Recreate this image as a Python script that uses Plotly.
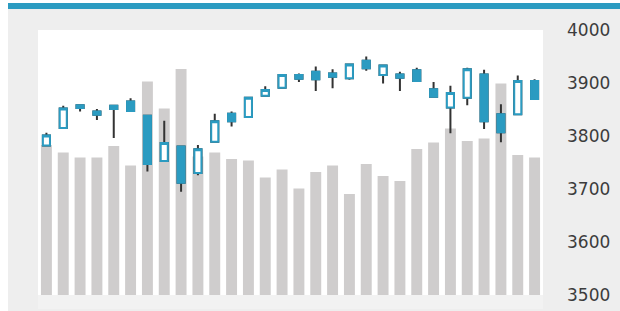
import plotly.graph_objects as go

days = [f"D{i+1}" for i in range(30)]

open_ = [3782, 3815, 3858, 3846, 3857, 3865, 3838, 3753, 3780, 3730,
         3789, 3842, 3836, 3876, 3891, 3915, 3921, 3918, 3909, 3942,
         3915, 3916, 3924, 3888, 3854, 3872, 3916, 3841, 3841, 3904]
high = [3806, 3857, 3860, 3851, 3858, 3871, 3839, 3829, 3781, 3783,
        3842, 3846, 3873, 3894, 3916, 3918, 3931, 3926, 3936, 3950,
        3934, 3921, 3929, 3902, 3895, 3929, 3925, 3860, 3914, 3907]
low = [3780, 3813, 3846, 3830, 3796, 3846, 3733, 3752, 3695, 3726,
       3788, 3818, 3835, 3875, 3890, 3902, 3885, 3890, 3906, 3923,
       3899, 3885, 3902, 3873, 3805, 3858, 3813, 3788, 3840, 3869]
close = [3801, 3852, 3853, 3840, 3851, 3847, 3747, 3787, 3712, 3775,
         3828, 3828, 3872, 3887, 3915, 3908, 3907, 3912, 3935, 3928,
         3933, 3910, 3904, 3874, 3881, 3926, 3828, 3807, 3904, 3870]
volume = [3000, 2850, 2750, 2750, 2980, 2590, 4270, 3730, 4520, 2770,
          2850, 2720, 2690, 2350, 2510, 2130, 2460, 2590, 2020, 2620,
          2380, 2280, 2920, 3050, 3330, 3080, 3130, 4230, 2800, 2750]

price_ticks = [3500, 3600, 3700, 3800, 3900, 4000]

BLUE = "#2b9bc1"
WICK = "#333333"

body_high = [max(o, c) for o, c in zip(open_, close)]
body_low = [min(o, c) for o, c in zip(open_, close)]

fig = go.Figure()

fig.add_trace(go.Bar(
    x=days, y=volume, yaxis="y", marker=dict(color="#cfcdcd", line=dict(width=0)),
    hoverinfo="skip", showlegend=False,
))

# wicks
fig.add_trace(go.Candlestick(
    x=days, open=open_, high=high, low=low, close=close, yaxis="y2",
    increasing=dict(line=dict(color=WICK, width=2), fillcolor="white"),
    decreasing=dict(line=dict(color=WICK, width=2), fillcolor=WICK),
    showlegend=False, hoverinfo="skip",
))
# bodies
fig.add_trace(go.Candlestick(
    x=days, open=open_, high=body_high, low=body_low, close=close, yaxis="y2",
    increasing=dict(line=dict(color=BLUE, width=2), fillcolor="white"),
    decreasing=dict(line=dict(color=BLUE, width=2), fillcolor=BLUE),
    showlegend=False,
))

L, R, T, B = 38, 77, 30, 16
W, H = 620, 311
pw, ph = W - L - R, H - T - B

def px_x(p):
    return (p - L) / pw

def px_y(p):
    return (H - B - p) / ph

fig.update_layout(
    width=W, height=H,
    margin=dict(l=L, r=R, t=T, b=B, pad=0, autoexpand=False),
    paper_bgcolor="#eeeeee",
    plot_bgcolor="white",
    bargap=0.35,
    boxgap=0.4,
    xaxis=dict(type="category", visible=False, rangeslider=dict(visible=False),
               range=[-0.5, 29.5], fixedrange=True, automargin=False),
    yaxis=dict(visible=False, range=[0, 5300], showgrid=False, fixedrange=True,
               automargin=False),
    yaxis2=dict(overlaying="y", side="right", range=[3500, 4000],
                tickvals=price_ticks, showgrid=False, zeroline=False,
                showline=False, ticks="", ticklabelstandoff=23, fixedrange=True,
                automargin=False,
                tickfont=dict(family="DejaVu Sans", size=17, color="#3c3c3c")),
    shapes=[
        # white outer strips
        dict(type="rect", xref="paper", yref="paper", layer="above",
             x0=px_x(0), x1=px_x(8), y0=px_y(311), y1=px_y(0),
             fillcolor="white", line=dict(width=0)),
        dict(type="rect", xref="paper", yref="paper", layer="above",
             x0=px_x(0), x1=px_x(620), y0=px_y(3), y1=px_y(0),
             fillcolor="white", line=dict(width=0)),
        # light strip under plot
        dict(type="rect", xref="paper", yref="paper", layer="above",
             x0=0, x1=1, y0=px_y(309), y1=0,
             fillcolor="#f2f2f2", line=dict(width=0)),
        # top blue band
        dict(type="rect", xref="paper", yref="paper", layer="above",
             x0=px_x(8), x1=px_x(620), y0=px_y(9), y1=px_y(3),
             fillcolor="#2b9bc1", line=dict(width=0)),
    ],
)

fig.write_html(
    "out.html",
    config={"displayModeBar": False, "responsive": False},
    post_script=(
        "document.documentElement.style.margin='0';"
        "document.documentElement.style.overflow='hidden';"
        "document.body.style.margin='0';"
        "document.body.style.overflow='hidden';"
    ),
)
